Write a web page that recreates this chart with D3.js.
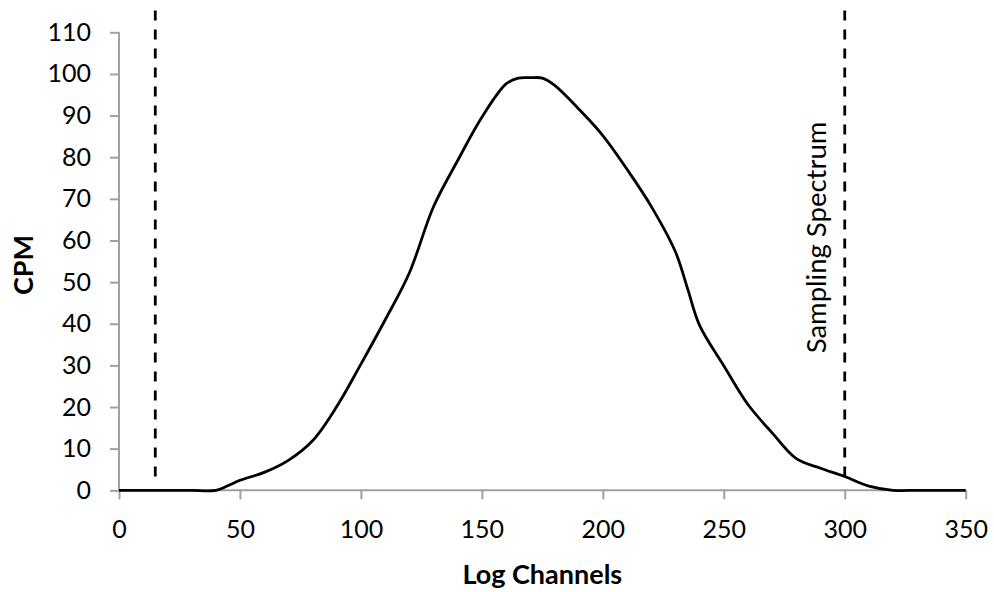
<!DOCTYPE html>
<html>
<head>
<meta charset="utf-8">
<script src="https://cdn.jsdelivr.net/npm/d3@7"></script>
<style>
  html, body { margin: 0; padding: 0; background: #fff; }
  svg { display: block; font-family: Lato, "Open Sans", sans-serif; }
</style>
</head>
<body>
<svg id="chart" width="994" height="592"></svg>
<script>
// Spectrum: counts per minute across log channels
const channels = [0, 10, 20, 30, 40, 45, 50, 60, 70, 80, 90, 100, 110, 120, 130, 140, 150, 160, 165, 170, 175, 180, 190, 200, 210, 220, 230, 235, 240, 250, 260, 270, 280, 290, 300, 310, 320, 330, 340, 350];
const cpm      = [0, 0, 0, 0, 0, 1.1, 2.4, 4.3, 7.2, 11.9, 20.1, 30.3, 40.9, 52.2, 68.1, 79.2, 89.6, 97.6, 99, 99.1, 99, 97.3, 91.6, 85.2, 77.1, 68.2, 57.3, 48.5, 39.6, 29.9, 20.6, 13.8, 7.6, 5.3, 3.3, 1.0, 0, 0, 0, 0];

// Sampling window boundaries (dashed markers)
const windowChannels = [15, 300];
const windowRange = [3.3, 115.3];
const windowLabel = "Sampling Spectrum";

const xTicks = [0, 50, 100, 150, 200, 250, 300, 350];
const yTicks = [0, 10, 20, 30, 40, 50, 60, 70, 80, 90, 100, 110];
const xTitle = "Log Channels";
const yTitle = "CPM";

const svg = d3.select("#chart");
const axisColor = "#a0a0a0";

const x = d3.scaleLinear().domain([0, 350]).range([119, 965.7]);
const y = d3.scaleLinear().domain([0, 110]).range([490.3, 32.3]);

// Axes
const xAxis = svg.append("g")
  .attr("transform", `translate(0,${y(0)})`)
  .call(d3.axisBottom(x).tickValues(xTicks).tickSize(9).tickPadding(21).tickFormat(d3.format("d")));
const yAxis = svg.append("g")
  .attr("transform", `translate(${x(0)},0)`)
  .call(d3.axisLeft(y).tickValues(yTicks).tickSize(9).tickPadding(19).tickFormat(d3.format("d")));

[xAxis, yAxis].forEach(g => {
  g.select(".domain").attr("stroke", axisColor).attr("stroke-width", 2);
  g.selectAll(".tick line").attr("stroke", axisColor).attr("stroke-width", 2);
  g.selectAll(".tick text").attr("fill", "#000").style("font-size", "25px").style("font-family", "Lato, sans-serif");
});
// axis lines without outer ticks
yAxis.select(".domain").attr("d", `M0,${y(110)}V${y(0)}`);
xAxis.select(".domain").attr("d", `M${x(0)},0H${x(350)}`);

// Dashed window markers
svg.append("g").selectAll("line")
  .data(windowChannels)
  .join("line")
  .attr("x1", d => x(d)).attr("x2", d => x(d))
  .attr("y1", y(windowRange[0])).attr("y2", y(windowRange[1]))
  .attr("stroke", "#000")
  .attr("stroke-width", 2.8)
  .attr("stroke-dasharray", "10,9");

// Spectrum curve (smoothed through the sampled points)
const line = d3.line()
  .x((d, i) => x(channels[i]))
  .y(d => y(d))
  .curve(d3.curveCatmullRom.alpha(0.5));

svg.append("path")
  .datum(cpm)
  .attr("d", line)
  .attr("fill", "none")
  .attr("stroke", "#000")
  .attr("stroke-width", 2.8)
  .attr("stroke-linejoin", "round");

// Window label, rotated beside the right marker
svg.append("text")
  .attr("transform", `translate(${x(windowChannels[1]) - 19},${237.5}) rotate(-90)`)
  .attr("text-anchor", "middle")
  .style("font-size", "27.5px")
  .text(windowLabel);

// Axis titles
svg.append("text")
  .attr("x", (x(0) + x(350)) / 2)
  .attr("y", 583.5)
  .attr("text-anchor", "middle")
  .style("font-size", "27px")
  .style("font-weight", "bold")
  .text(xTitle);

svg.append("text")
  .attr("transform", `translate(32.5,265) rotate(-90)`)
  .attr("text-anchor", "middle")
  .style("font-size", "27px")
  .style("font-weight", "bold")
  .text(yTitle);
</script>
</body>
</html>
